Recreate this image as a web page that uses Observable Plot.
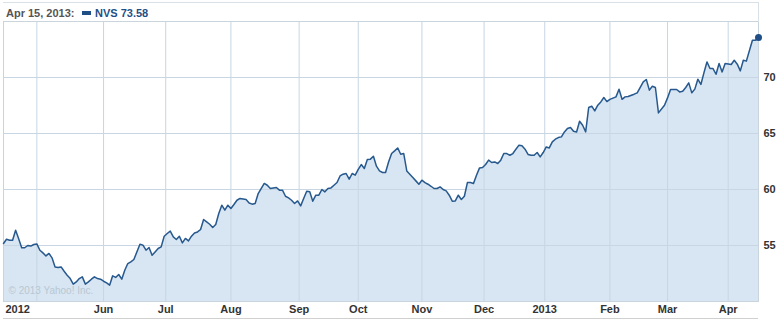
<!DOCTYPE html>
<html>
<head>
<meta charset="utf-8">
<script src="https://cdn.jsdelivr.net/npm/d3@7"></script>
<script src="https://cdn.jsdelivr.net/npm/@observablehq/plot@0.6"></script>
<style>
  html, body { margin: 0; padding: 0; background: #fff; }
  #wrap { position: relative; width: 784px; height: 319px; overflow: hidden; }
  #wrap svg { position: absolute; left: 0; top: 0; }
  #head { position: absolute; left: 3px; top: 2px; width: 756px; height: 20px; box-sizing: border-box;
          border-top: 1px solid #d9e0e6; border-right: 1px solid #d9e0e6;
          font: bold 11px "Liberation Sans", Arial, sans-serif; line-height: 13px; }
  #head .date { position: absolute; left: 3px; top: 4px; color: #555; }
  #head .sw { position: absolute; left: 79px; top: 8px; width: 9px; height: 4px; background: #1f4f86; }
  #head .ser { position: absolute; left: 92px; top: 4px; color: #1f4f86; }
</style>
</head>
<body>
<div id="wrap"><div id="head"></div></div>
<script>
// ---- data ----
const ticker = "NVS";
const holidays = ["2012-05-28","2012-07-04","2012-09-03","2012-10-29","2012-10-30","2012-11-22","2012-12-25",
                  "2013-01-01","2013-01-21","2013-02-18","2013-03-29"];
const rangeStart = "2012-04-16";
const rangeEnd = "2013-04-15";

const dates = [
"2012-04-16","2012-04-17","2012-04-18","2012-04-19","2012-04-20","2012-04-23","2012-04-24","2012-04-25","2012-04-26","2012-04-27","2012-04-30",
"2012-05-01","2012-05-02","2012-05-03","2012-05-04","2012-05-07","2012-05-08","2012-05-09","2012-05-10","2012-05-11","2012-05-14","2012-05-15","2012-05-16","2012-05-17","2012-05-18","2012-05-21","2012-05-22","2012-05-23","2012-05-24","2012-05-25","2012-05-29","2012-05-30","2012-05-31",
"2012-06-01","2012-06-04","2012-06-05","2012-06-06","2012-06-07","2012-06-08","2012-06-11","2012-06-12","2012-06-13","2012-06-14","2012-06-15","2012-06-19","2012-06-20","2012-06-21","2012-06-22","2012-06-25","2012-06-26","2012-06-27","2012-06-28","2012-06-29",
"2012-07-02","2012-07-03","2012-07-05","2012-07-06","2012-07-09","2012-07-10","2012-07-11","2012-07-12","2012-07-13","2012-07-16","2012-07-17","2012-07-18","2012-07-19","2012-07-20","2012-07-23","2012-07-24","2012-07-25","2012-07-26","2012-07-27","2012-07-30","2012-07-31",
"2012-08-01","2012-08-02","2012-08-03","2012-08-06","2012-08-08","2012-08-09","2012-08-10","2012-08-13","2012-08-14","2012-08-16","2012-08-17","2012-08-20","2012-08-22","2012-08-23","2012-08-24","2012-08-27","2012-08-28","2012-08-29","2012-08-30","2012-08-31",
"2012-09-04","2012-09-05","2012-09-06","2012-09-07","2012-09-10","2012-09-11","2012-09-12","2012-09-13","2012-09-14","2012-09-17","2012-09-18","2012-09-19","2012-09-20","2012-09-21","2012-09-24","2012-09-25","2012-09-26","2012-09-27","2012-09-28",
"2012-10-01","2012-10-02","2012-10-03","2012-10-04","2012-10-05","2012-10-08","2012-10-09","2012-10-10","2012-10-11","2012-10-12","2012-10-15","2012-10-16","2012-10-17","2012-10-18","2012-10-19","2012-10-22","2012-10-23","2012-10-24","2012-10-25","2012-10-26","2012-10-31",
"2012-11-01","2012-11-02","2012-11-05","2012-11-06","2012-11-07","2012-11-08","2012-11-09","2012-11-12","2012-11-13","2012-11-14","2012-11-15","2012-11-16","2012-11-19","2012-11-20","2012-11-21","2012-11-23","2012-11-26","2012-11-27","2012-11-28","2012-11-29","2012-11-30",
"2012-12-03","2012-12-04","2012-12-05","2012-12-06","2012-12-07","2012-12-10","2012-12-11","2012-12-12","2012-12-13","2012-12-14","2012-12-17","2012-12-18","2012-12-19","2012-12-20","2012-12-21","2012-12-24","2012-12-26","2012-12-27","2012-12-28","2012-12-31",
"2013-01-02","2013-01-03","2013-01-04","2013-01-07","2013-01-08","2013-01-09","2013-01-10","2013-01-11","2013-01-14","2013-01-15","2013-01-16","2013-01-17","2013-01-18","2013-01-22","2013-01-23","2013-01-24","2013-01-25","2013-01-28","2013-01-29","2013-01-30","2013-01-31",
"2013-02-01","2013-02-05","2013-02-06","2013-02-07","2013-02-08","2013-02-11","2013-02-13","2013-02-14","2013-02-15","2013-02-19","2013-02-20","2013-02-21","2013-02-22","2013-02-25","2013-02-26","2013-02-28",
"2013-03-01","2013-03-04","2013-03-06","2013-03-07","2013-03-08","2013-03-11","2013-03-12","2013-03-13","2013-03-14","2013-03-15","2013-03-18","2013-03-19","2013-03-20","2013-03-21","2013-03-22","2013-03-25","2013-03-26","2013-03-27","2013-03-28",
"2013-04-02","2013-04-03","2013-04-04","2013-04-05","2013-04-08","2013-04-09","2013-04-11","2013-04-12","2013-04-15"
];

const closes = [
55.18,55.56,55.47,55.47,56.36,55.60,54.80,54.80,55.00,54.95,55.09,
55.14,54.58,54.34,54.07,54.29,53.90,53.09,53.04,53.09,52.70,52.35,52.05,51.55,51.75,52.05,52.20,51.55,51.75,51.99,52.20,52.05,51.99,
51.81,51.66,51.46,52.29,52.15,52.41,51.99,52.79,53.39,53.54,53.75,55.12,55.03,54.58,54.82,54.13,54.43,54.73,54.88,55.83,
56.07,56.28,55.77,55.54,55.83,55.23,55.63,55.41,55.83,56.12,56.21,56.43,57.32,57.11,56.90,56.61,56.88,57.86,58.60,58.15,58.60,
58.30,58.66,59.04,59.20,59.11,58.80,58.69,58.75,59.64,60.54,60.38,60.09,60.18,59.94,59.94,59.40,59.25,59.04,58.75,58.98,
58.54,59.20,59.85,59.80,58.96,59.49,59.49,60.00,59.79,60.09,60.14,60.38,60.62,61.21,61.37,61.43,60.92,61.43,61.28,
61.79,62.23,61.88,62.68,62.71,62.97,62.08,61.66,61.52,61.52,62.46,63.21,63.45,63.71,63.15,63.21,61.66,61.37,61.07,60.77,60.47,
60.83,60.62,60.47,60.29,60.09,60.09,60.23,60.00,59.88,59.49,58.96,58.98,59.49,59.11,59.40,60.62,60.62,60.54,61.28,61.93,61.97,
62.23,62.62,62.41,62.46,62.32,62.62,63.21,63.21,63.06,63.21,63.60,63.96,63.90,63.60,63.13,63.06,63.06,63.30,62.91,63.30,
63.80,63.71,64.25,64.49,64.64,64.70,65.14,65.45,65.54,65.20,65.14,66.10,65.74,65.14,67.32,67.44,67.02,67.53,67.82,68.21,67.85,
68.05,68.27,68.95,68.05,68.27,68.30,68.51,68.63,69.11,69.61,69.82,68.87,69.22,69.11,66.84,67.53,
68.18,68.93,68.93,68.71,68.78,69.11,69.52,68.63,68.96,69.85,69.38,70.41,71.39,70.80,70.80,70.29,71.25,70.50,71.25,
71.16,71.54,71.19,70.59,71.54,71.46,73.33,73.33,73.58
];

const monthTicks = ["2012-05-01","2012-06-01","2012-07-01","2012-08-01","2012-09-01","2012-10-01","2012-11-01",
                    "2012-12-01","2013-01-01","2013-02-01","2013-03-01","2013-04-01"];
const monthLabels = ["","Jun","Jul","Aug","Sep","Oct","Nov","Dec","2013","Feb","Mar","Apr"];
const startLabel = "2012";
const yDomain = [50, 75];
const yTicks = [55, 60, 65, 70];
const credit = "© 2013 Yahoo! Inc.";

// ---- trading-session calendar (x is the session number) ----
const parse = d3.utcParse("%Y-%m-%d");
const holidaySet = new Set(holidays);
const sessions = d3.utcDay.range(parse(rangeStart), d3.utcDay.offset(parse(rangeEnd), 1))
  .filter(d => d.getUTCDay() !== 0 && d.getUTCDay() !== 6 && !holidaySet.has(d3.utcFormat("%Y-%m-%d")(d)));
const sessionTimes = sessions.map(d => +d);
function sessionOf(s) {
  const t = +parse(s);
  const i = d3.bisectLeft(sessionTimes, t);
  return sessionTimes[i] === t ? i : i - 0.5;
}

const data = dates.map((d, i) => ({date: parse(d), session: sessionOf(d), close: closes[i]}));
const last = data[data.length - 1];

const font = '"Liberation Sans", Arial, sans-serif';
const gridColor = "#c7d6e2";

const chart = Plot.plot({
  width: 784,
  height: 319,
  marginTop: 21,
  marginBottom: 18,
  marginLeft: 3,
  marginRight: 26,
  x: {type: "linear", domain: [0, sessions.length - 1], axis: null},
  y: {domain: yDomain, axis: null},
  style: {fontFamily: font, overflow: "visible", background: "transparent"},
  marks: [
    Plot.areaY(data, {x: "session", y1: yDomain[0], y2: "close", fill: "#d7e6f2"}),
    Plot.ruleX(monthTicks, {x: d => sessionOf(d), stroke: gridColor}),
    Plot.ruleY(yTicks, {stroke: gridColor}),
    Plot.frame({stroke: "#c9d4dd"}),
    Plot.ruleY([yDomain[0]], {dy: 17, stroke: "#d0d0d0"}),
    Plot.text([credit], {frameAnchor: "bottom-left", dx: 5, dy: -8, fill: "#b9c6d2", fontSize: 10,
                         textAnchor: "start"}),
    Plot.line(data, {x: "session", y: "close", stroke: "#28598e", strokeWidth: 1.5}),
    Plot.dot([last], {x: "session", y: "close", r: 3.5, fill: "#1f4f86"}),
    Plot.text(yTicks, {y: d => d, frameAnchor: "right", textAnchor: "start", dx: 5, text: d => String(d),
                       fill: "#333", fontWeight: "bold", fontSize: 11}),
    Plot.text(monthTicks, {x: d => sessionOf(d), frameAnchor: "bottom", dy: 11, text: (d, i) => monthLabels[i],
                           fill: "#333", fontWeight: "bold", fontSize: 11}),
    Plot.text([startLabel], {frameAnchor: "bottom-left", textAnchor: "start", dx: 2, dy: 11, text: d => d,
                             fill: "#333", fontWeight: "bold", fontSize: 11})
  ]
});

const wrap = document.getElementById("wrap");
wrap.insertBefore(chart, wrap.firstChild);

const head = document.getElementById("head");
head.innerHTML = `<span class="date">${d3.utcFormat("%b %-d, %Y")(last.date)}:</span>` +
  `<span class="sw"></span><span class="ser">${ticker} ${last.close.toFixed(2)}</span>`;
</script>
</body>
</html>
